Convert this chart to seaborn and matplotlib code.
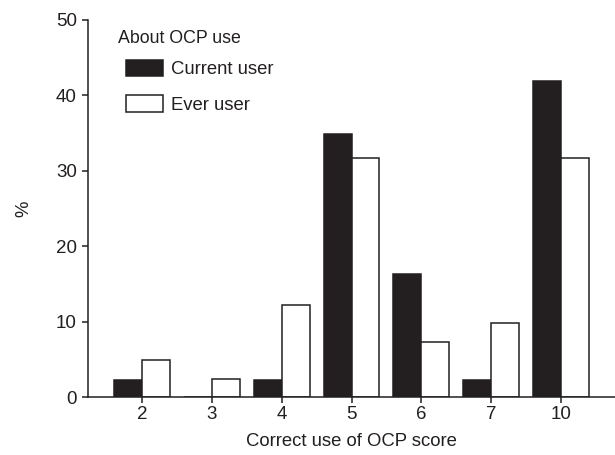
import matplotlib
matplotlib.use("Agg")
import matplotlib.pyplot as plt
import seaborn as sns
import pandas as pd
from matplotlib.patches import Patch

# Correct use of OCP score categories and percentage of respondents
scores = ["2", "3", "4", "5", "6", "7", "10"]
current_user = [2.3, 0.0, 2.3, 34.9, 16.3, 2.3, 41.9]
ever_user = [4.9, 2.4, 12.2, 31.7, 7.3, 9.8, 31.7]
groups = ["Current user", "Ever user"]
y_ticks = [0, 10, 20, 30, 40, 50]

df = pd.DataFrame({
    "score": scores * 2,
    "pct": current_user + ever_user,
    "group": [groups[0]] * len(scores) + [groups[1]] * len(scores),
})

sns.set_style("ticks")
plt.rcParams["font.family"] = ["Liberation Sans", "DejaVu Sans"]

dark = "#231f20"
fig = plt.figure(figsize=(6.15, 4.55), dpi=100)
ax = fig.add_axes([88 / 615, 1 - 397 / 455, 1 - 88 / 615, (397 - 20) / 455])

sns.barplot(data=df, x="score", y="pct", hue="group", order=scores,
            hue_order=groups, palette=[dark, "white"], width=0.8,
            edgecolor=dark, linewidth=1.1, saturation=1, ax=ax, legend=False)

ax.set_xlim(-0.77, len(scores) - 1 + 0.77)
ax.set_ylim(0, 50)
ax.set_yticks(y_ticks)
sns.despine(ax=ax)
for s in ("left", "bottom"):
    ax.spines[s].set_linewidth(1.1)
    ax.spines[s].set_color(dark)
ax.tick_params(axis="both", length=4, width=1.1, color=dark,
               labelsize=13.5, labelcolor=dark, pad=4)
ax.tick_params(axis="x", pad=2.5)

ax.set_xlabel("Correct use of OCP score", fontsize=13.3, color=dark, labelpad=7)
ax.set_ylabel("%", fontsize=13.3, color=dark, labelpad=17)

ax.text(0.057, 0.95, "About OCP use", transform=ax.transAxes,
        fontsize=12.8, color=dark, va="center", ha="left")
handles = [Patch(facecolor=dark, edgecolor=dark, linewidth=1.1),
           Patch(facecolor="white", edgecolor=dark, linewidth=1.1)]
ax.legend(handles, groups, loc="upper left", bbox_to_anchor=(0.072, 0.895),
          frameon=False, fontsize=13.3, handlelength=2.0, handleheight=1.0,
          labelspacing=0.92, handletextpad=0.45, borderaxespad=0.0,
          borderpad=0.0, labelcolor=dark)

fig.savefig("out.png", dpi=100)
